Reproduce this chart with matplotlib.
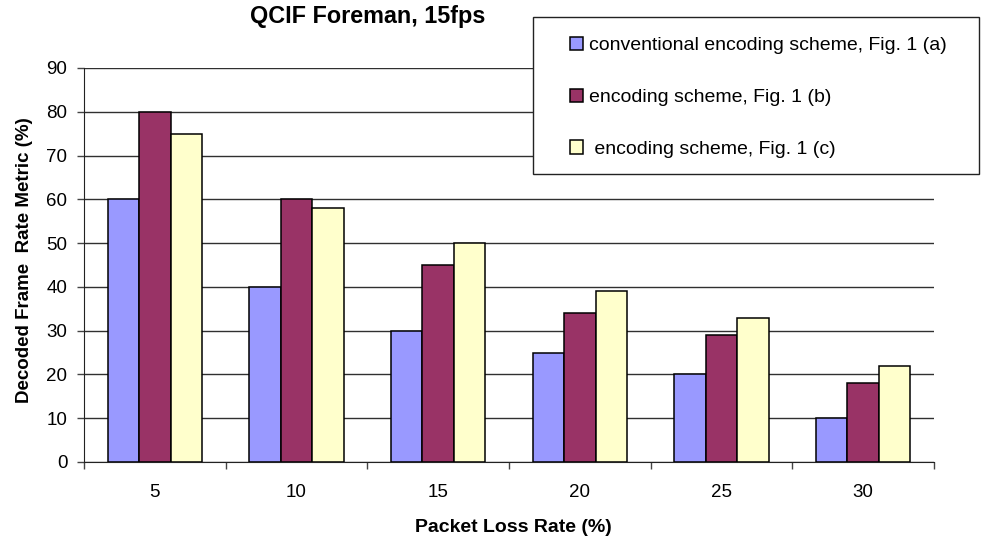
import numpy as np
import matplotlib.pyplot as plt
from matplotlib.patches import Rectangle

plt.rcParams['font.family'] = ['Liberation Sans', 'DejaVu Sans']

loss_rates = ['5', '10', '15', '20', '25', '30']
scheme_a = [60, 40, 30, 25, 20, 10]
scheme_b = [80, 60, 45, 34, 29, 18]
scheme_c = [75, 58, 50, 39, 33, 22]
labels = ['conventional encoding scheme, Fig. 1 (a)',
          'encoding scheme, Fig. 1 (b)',
          ' encoding scheme, Fig. 1 (c)']
colors = ['#9999FF', '#993366', '#FFFFCC']

W, H = 982, 539
fig = plt.figure(figsize=(W / 100, H / 100), dpi=100)
# plot area: x 84..934 px, y 68..462 px
ax = fig.add_axes([84 / W, 1 - 462 / H, 850 / W, 394 / H])

x = np.arange(len(loss_rates))
w = 0.222
for i, (vals, lab, c) in enumerate(zip([scheme_a, scheme_b, scheme_c], labels, colors)):
    ax.bar(x + (i - 1) * w, vals, width=w, color=c, edgecolor='black',
           linewidth=1.1, label=lab, zorder=3)

ax.set_xlim(-0.5, len(loss_rates) - 0.5)
ax.set_ylim(0, 90)
ax.set_yticks(range(0, 91, 10))
ax.yaxis.grid(True, color='#303030', linewidth=1, zorder=0)
ax.set_axisbelow(True)

# category labels in the middle, tick marks on the group boundaries
ax.set_xticks(x)
ax.set_xticklabels(loss_rates)
ax.tick_params(axis='x', length=0, pad=16, labelsize=13.5)
ax.set_xticks(np.arange(-0.5, len(loss_rates)), minor=True)
ax.tick_params(axis='x', which='minor', length=5, width=1, color='#444444')
ax.tick_params(axis='y', length=5, width=1, color='#444444', labelsize=13.5, pad=7)

for s in ['top', 'right']:
    ax.spines[s].set_visible(False)
ax.spines['left'].set_color('#222222')
ax.spines['bottom'].set_color('#222222')

ax.set_xlabel('Packet Loss Rate (%)', fontsize=14, fontweight='bold')
ax.xaxis.label.set_va('center')
ax.xaxis.set_label_coords((513 - 84) / 850, -(528 - 462) / 394)
ax.set_ylabel('Decoded Frame  Rate Metric (%)', fontsize=13.5, fontweight='bold')
ax.yaxis.label.set_va('center')
ax.yaxis.label.set_ha('center')
ax.yaxis.set_label_coords(-(84 - 25) / 850, (462 - 260) / 394)

fig.text(368 / W, 1 - 17 / H, 'QCIF Foreman, 15fps', fontsize=16.8,
         fontweight='bold', ha='center', va='center')

# legend box drawn separately so the padding can be set freely
box = Rectangle((533 / W, 1 - 174 / H), 446 / W, 157 / H, transform=fig.transFigure,
                facecolor='white', edgecolor='#222222', linewidth=1, zorder=4)
fig.patches.append(box)
leg = fig.legend(loc='upper left', bbox_to_anchor=(570 / W, 1 - 37 / H),
                 bbox_transform=fig.transFigure, fontsize=14, frameon=False,
                 handlelength=0.67, handleheight=0.67, handletextpad=0.3,
                 labelspacing=1.76, borderpad=0, borderaxespad=0)
leg.set_zorder(5)

fig.savefig('out.png', dpi=100)
